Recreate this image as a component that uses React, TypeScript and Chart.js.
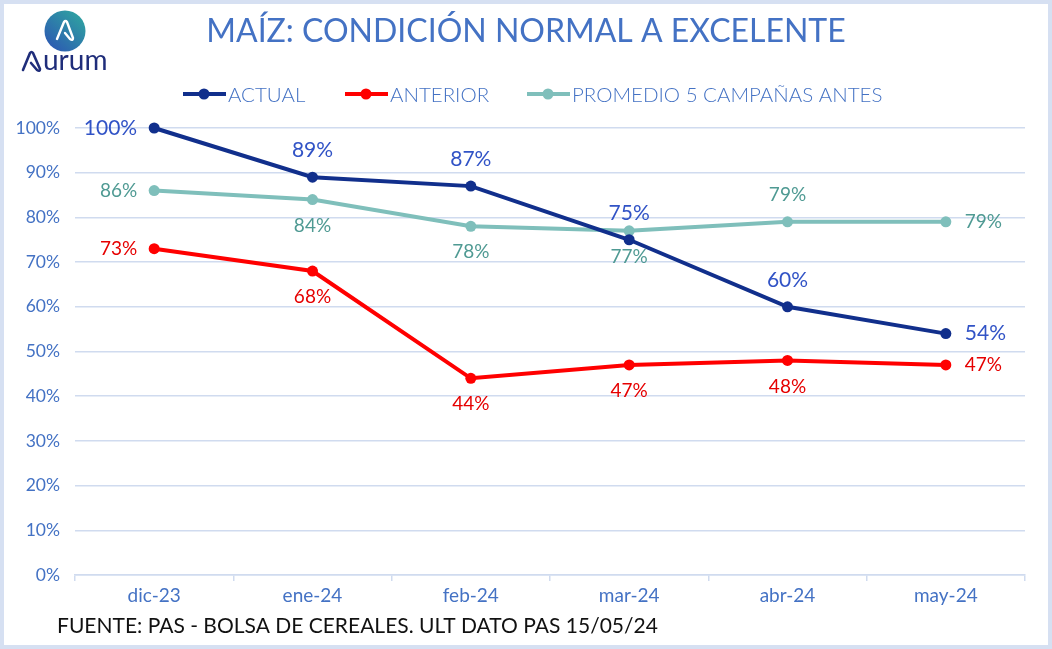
import React, { useEffect, useRef } from "react";
import { Chart, registerables } from "chart.js";

Chart.register(...registerables);

const categories = ["dic-23", "ene-24", "feb-24", "mar-24", "abr-24", "may-24"];
const actual = [100, 89, 87, 75, 60, 54];
const anterior = [73, 68, 44, 47, 48, 47];
const promedio = [86, 84, 78, 77, 79, 79];
const seriesNames = ["ACTUAL", "ANTERIOR", "PROMEDIO 5 CAMPAÑAS ANTES"];
const yTicks = [0, 10, 20, 30, 40, 50, 60, 70, 80, 90, 100];

const TITLE = "MAÍZ: CONDICIÓN NORMAL A EXCELENTE";
const SOURCE = "FUENTE: PAS - BOLSA DE CEREALES. ULT DATO PAS 15/05/24";

const FONT = "Lato, 'Open Sans', sans-serif";
const AXIS_BLUE = "#4472c4";

// where each value label sits relative to its point
const labelPlacement: string[][] = [
  ["left", "above", "above", "above", "above", "right"],
  ["left", "below", "below", "below", "below", "right"],
  ["left", "below", "below", "below", "above", "right"],
];
const labelStyle = [
  { color: "#3153c6", font: `21px ${FONT}` },
  { color: "#e60000", font: `19px ${FONT}` },
  { color: "#4f9a93", font: `19px ${FONT}` },
];
const lineColors = ["#112f8c", "#ff0000", "#7fbfbb"];

const decorPlugin = {
  id: "decor",
  beforeDraw(chart: any) {
    const ctx = chart.ctx;
    ctx.save();
    ctx.fillStyle = "#ffffff";
    ctx.fillRect(0, 0, chart.width, chart.height);
    ctx.restore();
  },
  afterDraw(chart: any) {
    const ctx = chart.ctx;
    ctx.save();
    // frame
    ctx.strokeStyle = "#d6e0f2";
    ctx.lineWidth = 4;
    ctx.strokeRect(2, 2, chart.width - 4, chart.height - 4);

    // title
    ctx.fillStyle = AXIS_BLUE;
    ctx.font = `32px ${FONT}`;
    ctx.textAlign = "center";
    ctx.textBaseline = "middle";
    ctx.fillText(TITLE, 526, 32);

    // legend
    const legendX = [183, 345, 527];
    ctx.font = `300 20.5px ${FONT}`;
    ctx.textAlign = "left";
    seriesNames.forEach((name, i) => {
      const x = legendX[i];
      ctx.strokeStyle = lineColors[i];
      ctx.lineWidth = 4;
      ctx.beginPath();
      ctx.moveTo(x, 94);
      ctx.lineTo(x + 43, 94);
      ctx.stroke();
      ctx.fillStyle = lineColors[i];
      ctx.beginPath();
      ctx.arc(x + 21, 94, 5.5, 0, Math.PI * 2);
      ctx.fill();
      ctx.fillStyle = AXIS_BLUE;
      ctx.fillText(name, x + 45, 95);
    });

    // source note
    ctx.fillStyle = "#111111";
    ctx.font = `21px ${FONT}`;
    ctx.textAlign = "left";
    ctx.fillText(SOURCE, 57, 626);

    // logo badge
    const g = ctx.createLinearGradient(48, 50, 82, 12);
    g.addColorStop(0, "#2c56b3");
    g.addColorStop(1, "#2fa6a0");
    ctx.fillStyle = g;
    ctx.beginPath();
    ctx.arc(65, 31, 20.5, 0, Math.PI * 2);
    ctx.fill();
    ctx.strokeStyle = "#ffffff";
    ctx.lineWidth = 2.4;
    ctx.lineJoin = "round";
    ctx.lineCap = "round";
    ctx.beginPath();
    ctx.moveTo(57, 39);
    ctx.lineTo(64, 22);
    ctx.quadraticCurveTo(65.5, 20, 67, 22);
    ctx.lineTo(73, 38);
    ctx.quadraticCurveTo(73, 41, 70, 39);
    ctx.lineTo(65, 33);
    ctx.stroke();

    // logo wordmark
    ctx.strokeStyle = "#1f2d7a";
    ctx.lineWidth = 2.6;
    ctx.beginPath();
    ctx.moveTo(23, 70);
    ctx.lineTo(30, 53);
    ctx.quadraticCurveTo(31.5, 51, 33, 53);
    ctx.lineTo(40, 69);
    ctx.quadraticCurveTo(40, 72, 37, 70);
    ctx.lineTo(31, 63);
    ctx.stroke();
    ctx.fillStyle = "#1f2d7a";
    ctx.font = `28px ${FONT}`;
    ctx.textBaseline = "alphabetic";
    ctx.fillText("urum", 43, 70);

    ctx.restore();
  },
};

const valueLabelPlugin = {
  id: "valueLabels",
  afterDatasetsDraw(chart: any) {
    const ctx = chart.ctx;
    ctx.save();
    ctx.textBaseline = "middle";
    chart.data.datasets.forEach((ds: any, di: number) => {
      const meta = chart.getDatasetMeta(di);
      meta.data.forEach((pt: any, i: number) => {
        const v = ds.data[i];
        const text = `${v}%`;
        const pos = labelPlacement[di][i];
        ctx.fillStyle = labelStyle[di].color;
        ctx.font = labelStyle[di].font;
        let x = pt.x;
        let y = pt.y;
        if (pos === "above") {
          ctx.textAlign = "center";
          y -= 27;
        } else if (pos === "below") {
          ctx.textAlign = "center";
          y += 26;
        } else if (pos === "left") {
          ctx.textAlign = "right";
          x -= 17;
        } else {
          ctx.textAlign = "left";
          x += 19;
        }
        ctx.fillText(text, x, y);
      });
    });
    ctx.restore();
  },
};

export default function App() {
  const canvasRef = useRef<HTMLCanvasElement | null>(null);

  useEffect(() => {
    document.body.style.margin = "0";
    const canvas = canvasRef.current;
    if (!canvas) return;
    const series = [actual, anterior, promedio];
    const chart = new Chart(canvas, {
      type: "line",
      data: {
        labels: categories,
        datasets: series.map((data, i) => ({
          label: seriesNames[i],
          data,
          borderColor: lineColors[i],
          backgroundColor: lineColors[i],
          borderWidth: 4,
          pointRadius: 5.5,
          pointHoverRadius: 5.5,
          pointBackgroundColor: lineColors[i],
          pointBorderWidth: 0,
          tension: 0,
          clip: false as any,
        })),
      },
      options: {
        animation: false,
        responsive: false,
        devicePixelRatio: 1,
        events: [],
        layout: { padding: { top: 128, right: 27, bottom: 0, left: 0 } },
        plugins: {
          legend: { display: false },
          title: { display: false },
          tooltip: { enabled: false },
        },
        scales: {
          x: {
            offset: true,
            grid: {
              offset: true,
              drawOnChartArea: false,
              drawTicks: true,
              tickLength: 6,
              color: "#d0dbef",
              lineWidth: 1.5,
            },
            border: { display: true, color: "#d0dbef", width: 1.5 },
            ticks: {
              color: AXIS_BLUE,
              font: { family: FONT, size: 19 },
              padding: 3,
            },
            afterFit(scale: any) {
              scale.height = 74;
            },
          },
          y: {
            min: 0,
            max: 100,
            afterBuildTicks(scale: any) {
              scale.ticks = yTicks.map((v) => ({ value: v }));
            },
            grid: {
              color: "#d0dbef",
              lineWidth: 1.5,
              drawTicks: false,
            },
            border: { display: false },
            ticks: {
              color: AXIS_BLUE,
              font: { family: FONT, size: 17.5 },
              padding: 15,
              callback: (v: any) => `${v}%`,
            },
            afterFit(scale: any) {
              scale.width = 75;
            },
          },
        },
      },
      plugins: [decorPlugin, valueLabelPlugin],
    });
    return () => chart.destroy();
  }, []);

  return (
    <div style={{ width: 1052, height: 649 }}>
      <canvas ref={canvasRef} width={1052} height={649} style={{ display: "block" }} />
    </div>
  );
}
